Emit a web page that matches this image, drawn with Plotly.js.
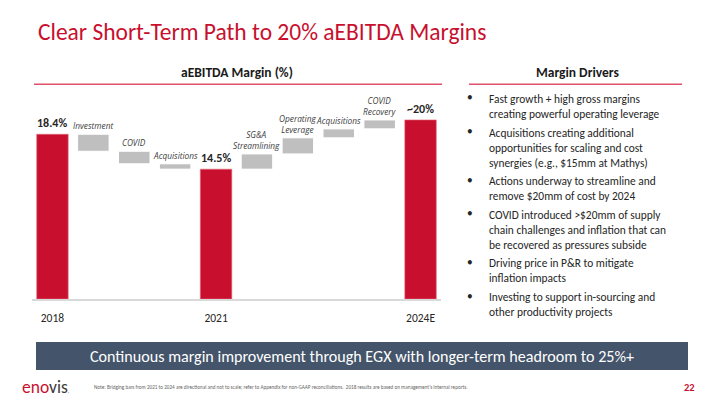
<!DOCTYPE html>
<html>
<head>
<meta charset="utf-8">
<script src="https://cdn.plot.ly/plotly-3.0.1.min.js"></script>
<style>html,body{margin:0;padding:0;background:#fff;}#chart{width:720px;height:405px;}</style>
</head>
<body>
<div id="chart"></div>
<script>
// ---- Data ----
const steps = ["2018", "Investment", "COVID", "Acquisitions", "2021", "SG&A Streamlining", "Operating Leverage", "Acquisitions", "COVID Recovery", "2024E"];
const measures = ["absolute", "relative", "relative", "relative", "total", "relative", "relative", "relative", "relative", "total"];
const values = [18.4, -1.9, -1.4, -0.6, 14.5, 1.7, 1.8, 1.0, 1.0, 20.0];
const barLabels = ["18.4%", "Investment", "COVID", "Acquisitions", "14.5%", "SG&A<br>Streamlining", "Operating<br>Leverage", "Acquisitions", "COVID<br>Recovery", "~20%"];
const tickYears = ["2018", "2021", "2024E"];
const bullets = [
  ["Fast growth + high gross margins", "creating powerful operating leverage"],
  ["Acquisitions creating additional", "opportunities for scaling and cost", "synergies (e.g., $15mm at Mathys)"],
  ["Actions underway to streamline and", "remove $20mm of cost by 2024"],
  ["COVID introduced >$20mm of supply", "chain challenges and inflation that can", "be recovered as pressures subside"],
  ["Driving price in P&R to mitigate", "inflation impacts"],
  ["Investing to support in-sourcing and", "other productivity projects"]
];
const titleText = "Clear Short-Term Path to 20% aEBITDA Margins";
const chartHeader = "aEBITDA Margin (%)";
const driversHeader = "Margin Drivers";
const bannerText = "Continuous margin improvement through EGX with longer-term headroom to 25%+";
const noteText = "Note: Bridging bars from 2021 to 2024 are directional and not to scale; refer to Appendix for non-GAAP reconciliations.  2018 results are based on management\u2019s internal reports.";
const pageNum = "22";

// ---- Styles ----
const RED = "#C8102E";
const GRAY = "#BFBFBF";
const FONT = "Carlito, Lato, 'Liberation Sans', sans-serif";
const ITFONT = "'Open Sans', 'DejaVu Sans', sans-serif";

const xs = steps.map((_, i) => i);
const tickIdx = xs.filter(i => measures[i] !== "relative");

// plot area: left 32, right 441, top 102, bottom 299
const L = 32, R = 441, T = 102, B = 299;
const xp = px => (px - L) / (R - L);
const yp = py => (B - py) / (B - T);

// running tops for labels
let run = 0;
const tops = [];
values.forEach((v, i) => {
  if (measures[i] === "absolute") { run = v; tops.push(v); }
  else if (measures[i] === "total") { tops.push(run); }
  else { const prev = run; run += v; tops.push(Math.max(prev, run)); }
});

const trace = {
  type: "waterfall",
  x: xs,
  y: measures.map((m, i) => m === "total" ? 0 : values[i]),
  measure: measures,
  width: 0.77,
  increasing: { marker: { color: GRAY, line: { color: "#FFFFFF", width: 1 } } },
  decreasing: { marker: { color: GRAY, line: { color: "#FFFFFF", width: 1 } } },
  totals: { marker: { color: RED, line: { color: "#E46B7E", width: 0.6 } } },
  connector: { visible: false },
  textinfo: "none",
  hoverinfo: "skip",
  cliponaxis: false
};

const annotations = [];
xs.forEach(i => {
  const isTotal = measures[i] !== "relative";
  annotations.push({
    xref: "x", yref: "y", x: i, y: tops[i],
    xanchor: "center", yanchor: "bottom", yshift: isTotal ? 2 : 1,
    text: isTotal ? "<b>" + barLabels[i] + "</b>" : barLabels[i],
    showarrow: false, align: "center",
    font: isTotal ? { family: FONT, size: 12, color: "#262626" }
                  : { family: ITFONT, size: 8.3, color: "#404040", style: "italic" }
  });
});

// headers & title
annotations.push({ xref: "paper", yref: "paper", x: xp(36), y: yp(32), xanchor: "left", yanchor: "middle",
  text: titleText, showarrow: false, font: { family: FONT, size: 23.5, color: RED } });
annotations.push({ xref: "paper", yref: "paper", x: xp(237.5), y: yp(73), xanchor: "center", yanchor: "middle",
  text: "<b>" + chartHeader + "</b>", showarrow: false, font: { family: FONT, size: 13.5, color: "#1A1A1A" } });
annotations.push({ xref: "paper", yref: "paper", x: xp(577), y: yp(73), xanchor: "center", yanchor: "middle",
  text: "<b>" + driversHeader + "</b>", showarrow: false, font: { family: FONT, size: 13.5, color: "#1A1A1A" } });

// bullets
const LH = 14.6, GAP = 4.6, BFS = 11.4;
let lineY = 97.3;
bullets.forEach(b => {
  annotations.push({ xref: "paper", yref: "paper", x: xp(470), y: yp(lineY), xanchor: "center", yanchor: "middle",
    text: "\u2022", showarrow: false, font: { family: FONT, size: BFS, color: "#262626" } });
  annotations.push({ xref: "paper", yref: "paper", x: xp(486.5), y: yp(lineY - LH / 2), xanchor: "left", yanchor: "top",
    text: b.join("<br>"), align: "left", showarrow: false, font: { family: FONT, size: BFS, color: "#262626" } });
  lineY += b.length * LH + GAP;
});

// banner
annotations.push({ xref: "paper", yref: "paper", x: xp(362), y: yp(356), xanchor: "center", yanchor: "middle",
  text: bannerText, showarrow: false, font: { family: FONT, size: 16.1, color: "#FFFFFF" } });
// footer
annotations.push({ xref: "paper", yref: "paper", x: xp(20), y: yp(387), xanchor: "left", yanchor: "middle",
  text: "<span style='color:#C8102E'>eno</span><span style='color:#3A3A3A'>vis</span><span style='color:#3A3A3A;font-size:6px'>.</span>",
  showarrow: false, font: { family: FONT, size: 17.5, color: RED } });
annotations.push({ xref: "paper", yref: "paper", x: xp(92), y: yp(387), xanchor: "left", yanchor: "middle",
  text: noteText, showarrow: false, font: { family: FONT, size: 5.2, color: "#666666" } });
annotations.push({ xref: "paper", yref: "paper", x: xp(697), y: yp(387), xanchor: "right", yanchor: "middle",
  text: "<b>" + pageNum + "</b>", showarrow: false, font: { family: FONT, size: 10.5, color: RED } });

const shapes = [
  { type: "line", xref: "paper", yref: "paper", x0: xp(34), x1: xp(442), y0: yp(84.3), y1: yp(84.3),
    line: { color: "#E05068", width: 1.5 } },
  { type: "line", xref: "paper", yref: "paper", x0: xp(469), x1: xp(682), y0: yp(84.3), y1: yp(84.3),
    line: { color: "#E05068", width: 1.5 } },
  { type: "rect", xref: "paper", yref: "paper", x0: xp(36), x1: xp(688), y0: yp(342), y1: yp(370),
    fillcolor: "#44546A", line: { width: 0 }, layer: "below" }
];

const layout = {
  width: 720, height: 405,
  margin: { l: L, r: 720 - R, t: T, b: 405 - B, pad: 0 },
  paper_bgcolor: "#FFFFFF", plot_bgcolor: "#FFFFFF",
  showlegend: false,
  font: { family: FONT },
  xaxis: {
    range: [-0.5, 9.5], tickvals: tickIdx, ticktext: tickYears,
    showgrid: false, zeroline: false, showline: true, linecolor: "#D9D9D9", linewidth: 1.5,
    ticks: "", ticklabelstandoff: 8, tickfont: { family: FONT, size: 11.5, color: "#262626" }, fixedrange: true
  },
  yaxis: { range: [0, 22], visible: false, fixedrange: true },
  annotations: annotations,
  shapes: shapes
};

Plotly.newPlot("chart", [trace], layout, { staticPlot: true, displayModeBar: false });
</script>
</body>
</html>
